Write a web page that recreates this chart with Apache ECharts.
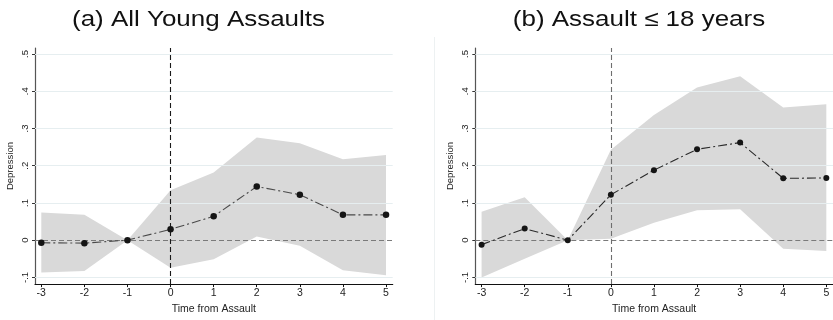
<!DOCTYPE html>
<html>
<head>
<meta charset="utf-8">
<script src="https://cdn.jsdelivr.net/npm/echarts@6/dist/echarts.min.js"></script>
<style>
  html, body { margin: 0; padding: 0; background: #fff; }
  #chart { width: 833px; height: 320px; }
</style>
</head>
<body>
<div id="chart"></div>
<script>
// Event-study estimates of depression around the time of assault
const periods = [-3, -2, -1, 0, 1, 2, 3, 4, 5];

// Panel (a): all young assaults
const allYoungEst = [-0.007, -0.008, 0, 0.029, 0.064, 0.144, 0.122, 0.068, 0.068];
const allYoungLo  = [-0.087, -0.083, 0, -0.074, -0.051, 0.010, -0.015, -0.081, -0.094];
const allYoungHi  = [0.074, 0.068, 0, 0.134, 0.182, 0.276, 0.260, 0.217, 0.229];

// Panel (b): assault at or before age 18
const under18Est = [-0.012, 0.031, 0, 0.122, 0.188, 0.244, 0.262, 0.166, 0.167];
const under18Lo  = [-0.100, -0.050, 0, 0.004, 0.047, 0.080, 0.083, -0.023, -0.029];
const under18Hi  = [0.076, 0.115, 0, 0.243, 0.336, 0.410, 0.440, 0.356, 0.365];

const panelTitles = ['(a) All Young Assaults', '(b) Assault \u2264 18 years'];
const xTicks = [-3, -2, -1, 0, 1, 2, 3, 4, 5];
const yTicks = [-0.1, 0, 0.1, 0.2, 0.3, 0.4, 0.5];
const gridValues = [-0.1, 0.1, 0.2, 0.3, 0.4, 0.5];
const xTitle = 'Time from Assault';
const yTitle = 'Depression';

const FONT = 'Liberation Sans, Arial, Helvetica, sans-serif';

function yLabel(v) {
  if (Math.abs(v) < 1e-9) return '0';
  return v.toFixed(1).replace('0.', '.');
}

function pairs(xs, ys) { return xs.map((x, i) => [x, ys[i]]); }

function xAxisFor(idx) {
  return {
    type: 'value', gridIndex: idx, min: -3.146, max: 5.155,
    name: xTitle, nameLocation: 'middle', nameGap: 16,
    nameTextStyle: { fontFamily: FONT, fontSize: 10.5, color: '#222' },
    axisLine: { onZero: false, lineStyle: { color: '#111', width: 1.2 } },
    axisTick: { show: true, customValues: xTicks, length: 3, lineStyle: { color: '#111' } },
    axisLabel: { customValues: xTicks, margin: 4, fontFamily: FONT, fontSize: 10.5, color: '#222',
                 formatter: v => String(v) },
    splitLine: { show: false }
  };
}

function yAxisFor(idx) {
  return {
    type: 'value', gridIndex: idx, min: -0.118, max: 0.516,
    name: yTitle, nameLocation: 'middle', nameGap: 20, nameRotate: 90,
    nameTextStyle: { fontFamily: FONT, fontSize: 9.5, color: '#222' },
    axisLine: { show: true, onZero: false, lineStyle: { color: '#555', width: 1.2 } },
    axisTick: { show: true, customValues: yTicks, length: 3, lineStyle: { color: '#333' } },
    axisLabel: { customValues: yTicks, rotate: 90, margin: 5, fontFamily: FONT, fontSize: 9.5, color: '#222',
                 formatter: yLabel },
    splitLine: { show: false }
  };
}

// Confidence band: one polygon through the upper bounds and back along the lower bounds
function bandSeries(idx, lo, hi) {
  return {
    type: 'custom', xAxisIndex: idx, yAxisIndex: idx, silent: true, z: 0,
    data: periods.map((x, i) => [x, lo[i], hi[i]]),
    renderItem: function (params, api) {
      if (params.dataIndex !== 0) return null;
      const upper = periods.map((x, i) => api.coord([x, hi[i]]));
      const lower = periods.map((x, i) => api.coord([x, lo[i]])).reverse();
      return {
        type: 'polygon',
        shape: { points: upper.concat(lower) },
        style: { fill: '#d9d9d9', stroke: null }
      };
    }
  };
}

function estimateSeries(idx, est, vColor, lineColor, dot) {
  return {
    type: 'line', xAxisIndex: idx, yAxisIndex: idx,
    data: pairs(periods, est), symbol: 'circle', symbolSize: dot,
    itemStyle: { color: '#151515' },
    lineStyle: { color: lineColor, width: 1.1, type: [9, 3, 2, 3] },
    z: 5,
    markLine: {
      silent: true, symbol: 'none', label: { show: false }, animation: false,
      data: gridValues.map(v => ({ yAxis: v, lineStyle: { type: 'solid', color: '#e6eef0', width: 1 } }))
        .concat([
          { yAxis: 0, lineStyle: { color: '#7a7a7a', width: 1.2, type: [5, 3] } },
          { xAxis: 0, lineStyle: { color: vColor, width: 1.1, type: [5, 3] } }
        ])
    }
  };
}

function titleText(str, cx) {
  return {
    type: 'text', x: cx, y: 8.5, scaleX: 1.18, silent: true,
    style: { text: str, fontFamily: FONT, fontSize: 22, fill: '#111',
             align: 'center', verticalAlign: 'top' }
  };
}

const chart = echarts.init(document.getElementById('chart'), null, { renderer: 'canvas' });

chart.setOption({
  animation: false,
  backgroundColor: '#ffffff',
  graphic: [
    titleText(panelTitles[0], 198.5),
    titleText(panelTitles[1], 639),
    { type: 'line', shape: { x1: 434.5, y1: 37, x2: 434.5, y2: 320 },
      style: { stroke: '#edf1f2', lineWidth: 1 }, silent: true }
  ],
  grid: [
    { left: 35, right: 440.3, top: 48, bottom: 25 },
    { left: 475.3, right: 0, top: 48, bottom: 25 }
  ],
  xAxis: [xAxisFor(0), xAxisFor(1)],
  yAxis: [yAxisFor(0), yAxisFor(1)],
  series: [
    bandSeries(0, allYoungLo, allYoungHi),
    estimateSeries(0, allYoungEst, '#1a1a1a', '#4a4a4a', 6.5),
    bandSeries(1, under18Lo, under18Hi),
    estimateSeries(1, under18Est, '#6e6e6e', '#2a2a2a', 6)
  ]
});
</script>
</body>
</html>
